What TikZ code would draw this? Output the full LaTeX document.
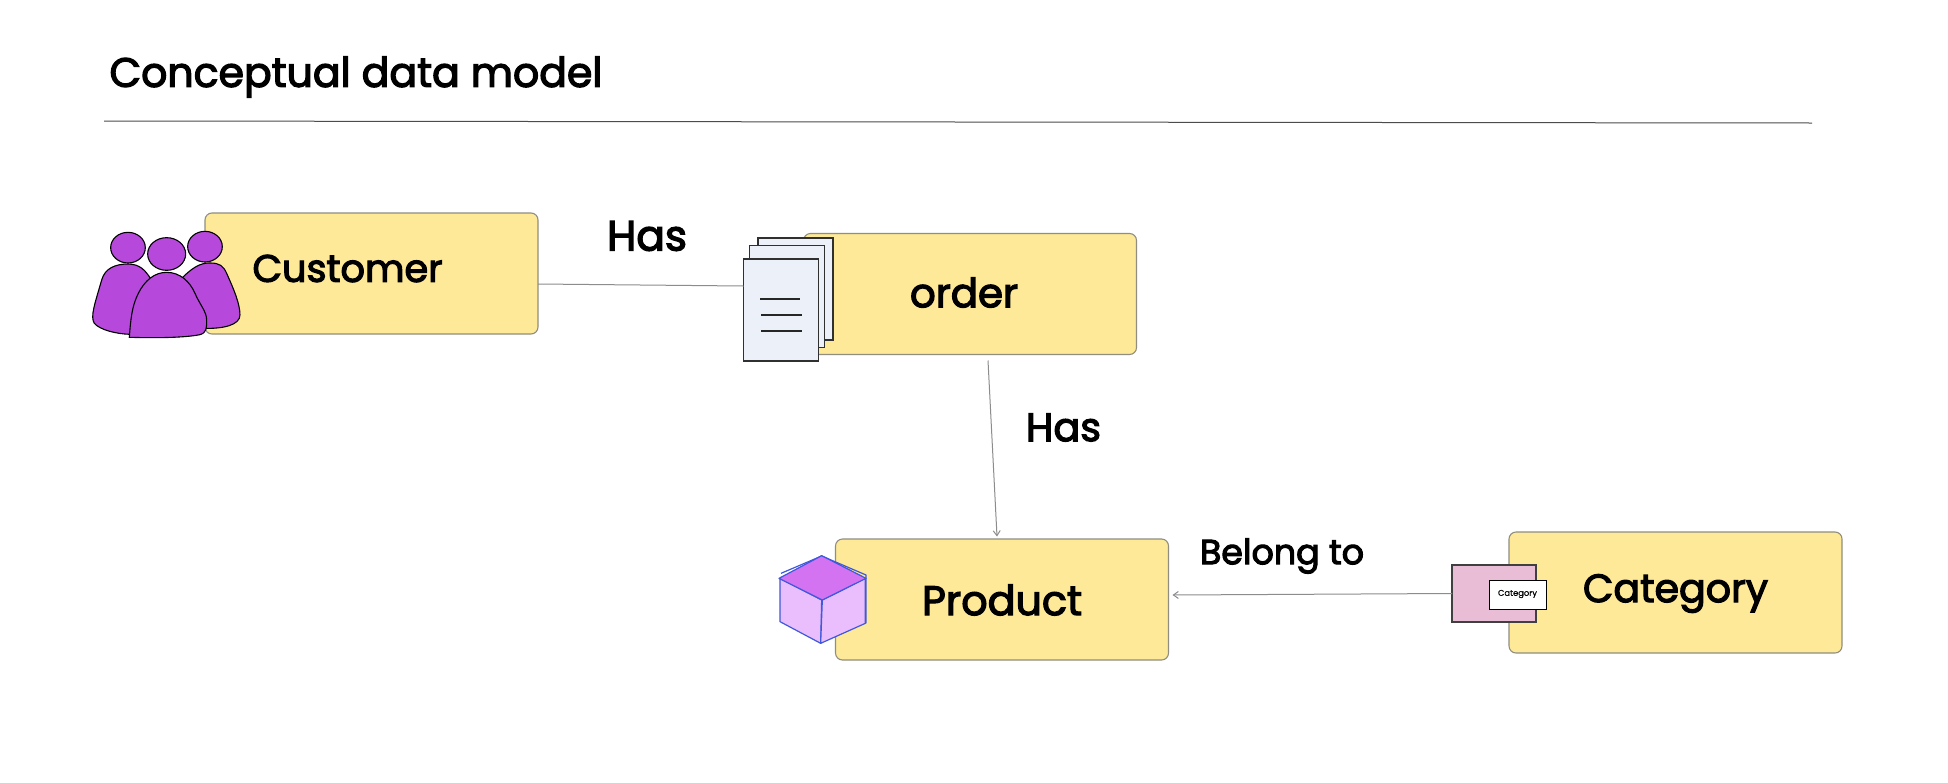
\documentclass[tikz,border=0pt]{standalone}
\usepackage{fontspec}
\usepackage{graphicx}
\setmainfont[FakeBold=3]{Poppins}
\usetikzlibrary{arrows.meta}
\definecolor{boxfill}{HTML}{FEE998}
\definecolor{boxline}{HTML}{8F8E80}
\definecolor{linkgray}{HTML}{8C8C8C}
\definecolor{people}{HTML}{B649DB}
\definecolor{pagefill}{HTML}{ECF0F8}
\definecolor{pageline}{HTML}{303030}
\definecolor{cubetop}{HTML}{D473F1}
\definecolor{cubeside}{HTML}{EABEFC}
\definecolor{cubeline}{HTML}{3F58DC}
\definecolor{tagfill}{HTML}{EABDD6}
\newcommand{\fitw}[2]{\resizebox{#1pt}{!}{#2}}
\tikzset{
  entity/.style={draw=boxline,fill=boxfill,line width=1.1pt,rounded corners=7pt,minimum width=333pt,minimum height=121pt,inner sep=0pt,outer sep=0pt},
  label/.style={inner sep=0pt,outer sep=0pt,text=black},
  link/.style={draw=linkgray,line width=1pt},
  arrowlink/.style={link,-{Straight Barb[length=5pt,width=7pt]}},
  person/.style={draw=black,fill=people,line width=1.1pt},
  page/.style={draw=pageline,fill=pagefill,line width=1.2pt,minimum width=75pt,minimum height=102pt,inner sep=0pt,outer sep=0pt},
  pagerule/.style={draw=black!85,line width=1.2pt},
  cubeedge/.style={draw=cubeline,line width=1.2pt,line join=round},
}
\begin{document}
\begin{tikzpicture}[x=1pt,y=-1pt]
\useasboundingbox[fill=white] (0,0) rectangle (1948,782);

% title and rule
\node[label] (title) at (356,77) {\fitw{493}{Conceptual data model}};
\coordinate (ruleL) at (104,121);
\coordinate (ruleR) at (1812,123);
\draw[draw=black!70,line width=1pt] (ruleL) -- (ruleR);

% entity boxes
\node[entity] (customer) at (371.5,273.5) {};
\node[entity] (order) at (970,294) {};
\node[entity] (product) at (1002,599.5) {};
\node[entity] (category) at (1675.5,592.5) {};

% document icon
\node[page] (pageC) at (795.5,289) {};
\node[page] (pageB) at (787,296.5) {};
\node[page] (pageA) at (781,310) {};
\coordinate (ruleA1) at (760,299); \coordinate (ruleA2) at (800,299);
\coordinate (ruleB1) at (761,315); \coordinate (ruleB2) at (802,315);
\coordinate (ruleC1) at (761,331); \coordinate (ruleC2) at (802,331);
\draw[pagerule] (ruleA1) -- (ruleA2);
\draw[pagerule] (ruleB1) -- (ruleB2);
\draw[pagerule] (ruleC1) -- (ruleC2);

% category icon
\node[draw=black!75,fill=tagfill,line width=1.1pt,minimum width=84pt,minimum height=57pt,inner sep=0pt,outer sep=0pt] (tag) at (1494,593.5) {};
\node[draw=black,fill=white,line width=1pt,minimum width=57pt,minimum height=29pt,inner sep=0pt,outer sep=0pt] (tagcard) at (1517.5,594.5) {};
\node[label] (tagtext) at (1517.5,594) {\fitw{39}{\addfontfeature{FakeBold=0.5}Category}};

% connectors
\draw[link] ([yshift=-10.5pt]customer.east) -- ([yshift=24pt]pageA.west);
\draw[arrowlink] ([xshift=18pt,yshift=-6pt]order.south) -- ([xshift=-5pt,yshift=2.5pt]product.north);
\draw[arrowlink] (tag.west) -- ([xshift=4pt,yshift=4.5pt]product.east);

% people icon
\begin{scope}[shift={(60,180)},x=0.3333pt,y=-0.3333pt]
  \draw[person] (365,295) .. controls (395,265) and (420,248) .. (450,249)
     .. controls (480,249) and (490,258) .. (500,280)
     .. controls (520,325) and (540,370) .. (540,405)
     .. controls (540,435) and (490,447) .. (430,445) -- cycle;
  \draw[person] (205,252) .. controls (240,253) and (255,270) .. (272,296)
     -- (210,463) .. controls (170,462) and (120,450) .. (103,430)
     .. controls (90,410) and (105,370) .. (125,300)
     .. controls (135,265) and (165,252) .. (205,252) -- cycle;
  \draw[person] (204,203) ellipse [x radius=52,y radius=46];
  \draw[person] (435,200) ellipse [x radius=52,y radius=46];
  \draw[person] (320,222) ellipse [x radius=57,y radius=49];
  \draw[person] (208,472) .. controls (212,420) and (215,380) .. (235,340)
     .. controls (255,300) and (285,277) .. (320,277)
     .. controls (360,277) and (390,305) .. (405,340)
     .. controls (420,375) and (440,395) .. (440,420)
     .. controls (440,445) and (440,458) .. (420,464)
     .. controls (370,474) and (280,474) .. (208,472) -- cycle;
\end{scope}

% cube icon
\begin{scope}[shift={(760,520)},x=0.3333pt,y=-0.3333pt]
  \draw[cubeedge] (63,160) -- (185,108) -- (318,165) -- (318,310);
  \draw[cubeedge,fill=cubeside] (60,175) -- (185,240) -- (182,370) -- (60,305) -- cycle;
  \draw[cubeedge,fill=cubeside] (187,240) -- (316,175) -- (316,310) -- (182,370) -- cycle;
  \draw[cubeedge,fill=cubetop] (57,175) -- (185,107) -- (318,175) -- (187,240) -- cycle;
\end{scope}

% labels
\node[label] (customerT) at (347.5,268.5) {\fitw{190}{Customer}};
\node[label] (orderT) at (964,292.5) {\fitw{108}{order}};
\node[label] (productT) at (1002,600) {\fitw{160}{Product}};
\node[label] (categoryT) at (1675.5,593.5) {\fitw{185}{Category}};
\node[label] (has1) at (647,236) {\fitw{80}{Has}};
\node[label] (has2) at (1063.5,427.5) {\fitw{75}{Has}};
\node[label] (belong) at (1282,556) {\fitw{164}{Belong to}};
\end{tikzpicture}
\end{document}
